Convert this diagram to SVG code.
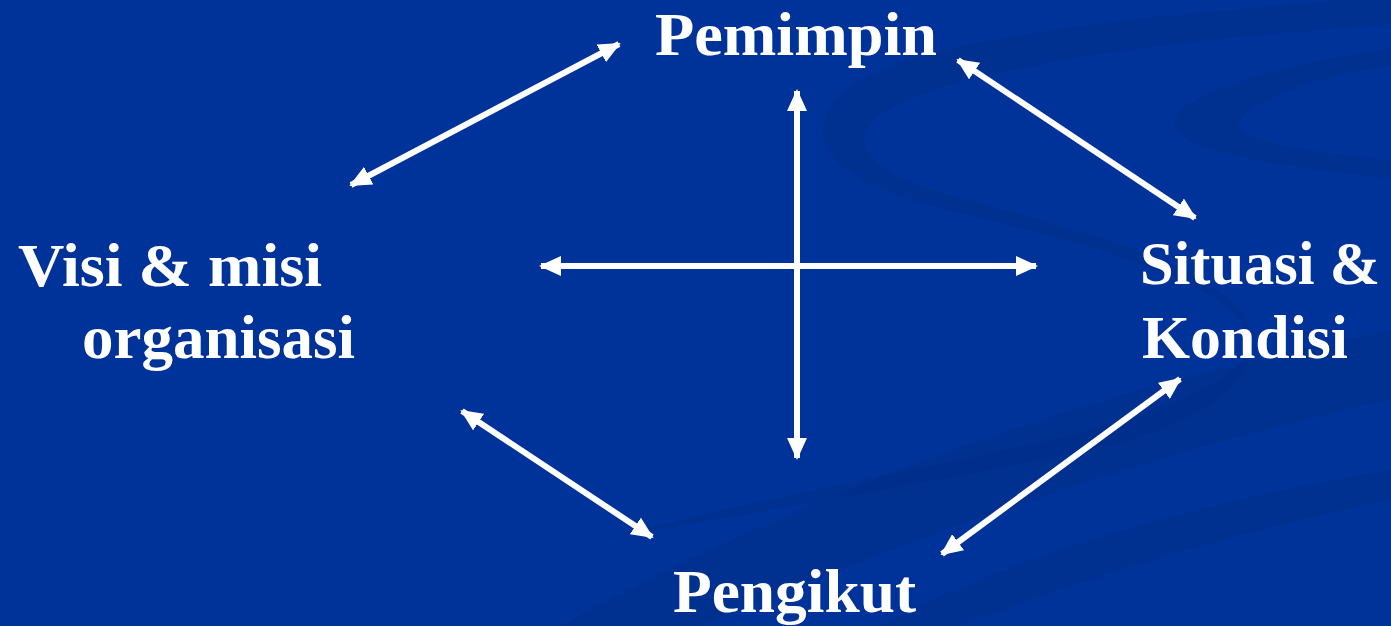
<svg xmlns="http://www.w3.org/2000/svg" width="1391" height="626" viewBox="0 0 1391 626">
<style>
.lbl{font-family:"Liberation Serif","Times New Roman",serif;font-weight:bold;font-size:61px;fill:#ffffff}
.conn{stroke:#ffffff;stroke-width:6;fill:none;marker-start:url(#ah);marker-end:url(#ah)}
.sw{fill:#002d88;opacity:0.55}
</style>
<defs>
<marker id="ah" markerUnits="userSpaceOnUse" markerWidth="22" markerHeight="20" viewBox="0 0 22 20" refX="20" refY="10" orient="auto-start-reverse">
<path d="M0,0 L22,10 L0,20 Z" fill="#ffffff"/>
</marker>
</defs>
<rect width="1391" height="626" fill="#003399"/>
<g id="background">
<path class="sw" d="M1391,0 L1346,0 C1100,20 900,40 840,95 C800,135 830,180 930,205 C1050,235 1200,270 1240,320 C1270,360 1220,400 1050,440 C900,475 750,500 600,540 C750,512 900,490 1110,445 C1230,415 1275,360 1240,310 C1200,260 1060,225 950,195 C860,170 850,140 880,115 C950,70 1150,40 1391,25 Z"/>
<path class="sw" d="M1391,330 C1200,370 900,440 560,626 L700,626 C950,520 1200,440 1391,400 Z"/>
<path class="sw" d="M1391,470 C1200,500 1000,560 880,626 L960,626 C1080,580 1240,530 1391,500 Z"/>
<path class="sw" d="M1391,48 C1250,70 1170,100 1175,125 C1180,150 1260,165 1391,178 L1391,160 C1290,150 1240,140 1240,125 C1240,105 1300,80 1391,65 Z"/>
</g>
<g id="connectors">
<line class="conn" x1="351" y1="185" x2="619" y2="44"/>
<line class="conn" x1="958" y1="60" x2="1195" y2="218"/>
<line class="conn" x1="1180" y1="379" x2="942" y2="554"/>
<line class="conn" x1="462" y1="411" x2="652" y2="537"/>
<line class="conn" x1="797" y1="91" x2="797" y2="458"/>
<line class="conn" x1="541" y1="266" x2="1036" y2="266"/>
</g>
<g id="node-pemimpin"><text class="lbl" x="655" y="55" textLength="282" lengthAdjust="spacingAndGlyphs">Pemimpin</text></g>
<g id="node-visi"><text class="lbl" x="18" y="286" textLength="304" lengthAdjust="spacingAndGlyphs">Visi &amp; misi</text><text class="lbl" x="82" y="358" textLength="273" lengthAdjust="spacingAndGlyphs">organisasi</text></g>
<g id="node-situasi"><text class="lbl" x="1140" y="284" textLength="240" lengthAdjust="spacingAndGlyphs">Situasi &amp;</text><text class="lbl" x="1142" y="358" textLength="206" lengthAdjust="spacingAndGlyphs">Kondisi</text></g>
<g id="node-pengikut"><text class="lbl" x="673" y="612" textLength="243" lengthAdjust="spacingAndGlyphs">Pengikut</text></g>
</svg>
